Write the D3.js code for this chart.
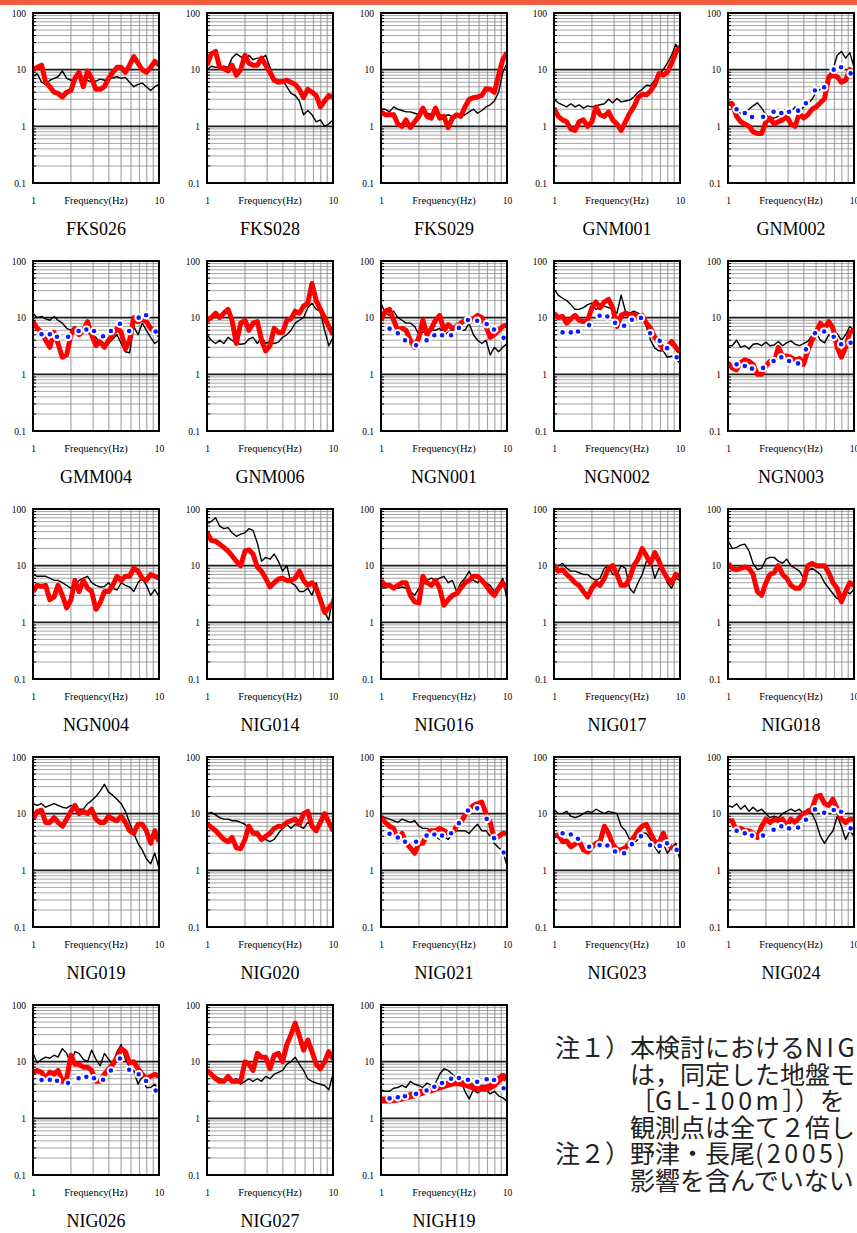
<!DOCTYPE html>
<html><head><meta charset="utf-8">
<script src="https://cdn.jsdelivr.net/npm/d3@7"></script>
<style>body{margin:0;background:#fff;overflow:hidden}svg{display:block}</style>
</head><body>
<svg id="c" width="857" height="1233"></svg>
<script>
// ---------------- data ----------------
const freqs = [1,1.08,1.17,1.26,1.36,1.47,1.58,1.71,1.85,2,2.15,2.32,2.51,2.71,2.92,3.16,3.41,3.69,3.98,4.3,4.64,5.01,5.41,5.84,6.31,6.81,7.36,7.94,8.58,9.26,10];
const dotFreqs = [1.17,1.36,1.55,1.9,2.3,2.65,3.05,3.6,4.15,4.9,5.8,6.9,7.9,9.4];
const yTickValues = [0.1,1,10,100];
const yTickLabels = ["0.1","1","10","100"];
const xTickValues = [1,10];
const xTickLabels = ["1","10"];
const xAxisTitle = "Frequency(Hz)";

const red_FKS026 = [10,11,12,6,5,4,3.8,3.3,4,4.3,7,9,5,9.5,7,4.5,4.5,5,7,9,11,11,9,12,17,13,10,9,11,14,12];
const black_FKS026 = [7.5,8.5,6,5.5,6.5,7,7.5,9.5,7,6.5,6.8,7.5,7,6.5,6,6.3,6.8,6.5,7,7.2,7.5,7,7.3,6,5,5.5,5.8,5,4.3,5,5.5];
const red_FKS028 = [12,19,21,11,10.5,9.5,12,8,10,18,13,12,12,16,12,9,6.5,6,6.2,6.5,6,5.5,4.5,3.2,4.5,4,3.5,2.2,2.8,3.5,3.3];
const black_FKS028 = [10,11.5,11,11,11.5,11,16,19,17,15,18,15,16,16,18,11,7,6.5,6.5,5,3.8,3.5,2.8,1.6,1.9,1.6,1.2,1.3,1.0,1.1,1.3];
const red_FKS029 = [1.8,1.6,1.6,1.6,1.1,1.0,1.3,0.95,1.2,1.5,2.1,1.5,1.4,2.1,1.4,1.5,0.95,1.4,1.6,1.5,2.2,3,3.2,3.3,3.5,4.6,4.5,4,8,15,20];
const black_FKS029 = [2.0,2.0,1.8,2.2,2.0,1.9,1.8,1.8,1.7,1.6,1.9,1.7,1.6,1.8,1.6,1.5,1.6,1.5,1.5,1.5,1.6,1.8,2.0,1.7,1.9,2.2,2.4,2.8,4,9,13];
const red_GNM001 = [2.1,1.5,1.3,1.2,0.9,0.85,1.2,1.3,1.0,1.2,2.2,1.6,1.5,1.8,1.3,1.1,0.85,1.2,1.7,2.2,3.2,3.7,3.6,4.2,5.5,8.5,8,9,13,20,26];
const black_GNM001 = [3.0,2.6,2.4,2.2,2.5,2.2,2.4,2.1,2.3,2.2,2.3,2.4,2.5,3.0,2.6,3.1,2.7,2.8,2.9,3.3,4,4.5,5.3,5.2,6.5,8,10,13,18,28,20];
const red_GNM002 = [2.6,2.5,1.5,1.2,1.1,1.0,0.8,0.75,0.75,1.2,1.4,1.1,1.2,1.3,1.5,1.1,1.0,1.7,1.4,1.6,2.0,2.2,2.6,3.1,7.5,8,7.5,6,6.5,10,9];
const black_GNM002 = [2.4,2.3,1.9,1.7,1.8,2.0,2.3,2.6,2.1,1.6,1.4,1.4,1.5,1.5,1.6,1.8,2.2,1.8,2.2,2.5,3.0,4,4.5,5,8,10,18,21,16,20,11];
const dots_GNM002 = [2.0,1.72,1.46,1.48,1.81,1.72,1.81,1.89,2.55,4.3,4.9,10,11,8.6];
const red_GMM004 = [8.5,6.5,5.5,4,3,5.5,3.5,2,2.2,5,6.5,5,6,8.5,5,3.2,3.8,3,4,5,6.5,5.5,2.8,4,10,8.5,9.5,8.5,6.5,5.5,5];
const black_GMM004 = [12,10,10.5,9.5,9,10.5,9,8,6.5,6,7,6,5.5,5.5,5,4.5,3.5,3.5,3.5,4.2,5,3.5,2.5,2.4,7,5,8,6,4.5,3.5,4];
const dots_GMM004 = [5.1,5.1,4.6,4.6,5.8,6.2,5.8,4.7,5.8,7.8,5.8,10,11,5.7];
const red_GNM006 = [9,10,12,10,12,14,9,3.5,8,9,6,8,8.5,4,2.6,3.2,6.5,5.5,5.5,9,9.5,13,12,16,18,40,20,14,10,7,5];
const black_GNM006 = [5,4,3.5,4,3.5,4.5,4,3.5,3.4,3.5,4.2,4.5,3.5,4.5,3.5,3.8,3.5,3.7,4.5,5,6,8,9,10,15,18,14,13,6,3.2,4.5];
const red_NGN001 = [9,13,14,9,6,6.5,6,4,3,4.5,9,5,6.5,9,11,6,7.5,6.5,7,8,9,9.5,9.5,11,10,7,4.5,5,6,7,7.5];
const black_NGN001 = [18,12,11,13,10,9,8,8,7,5,5.5,6,6,6,6.5,5,5.5,6,6.5,6,6,8,5,4,3.5,4,2.2,3,2.5,3,3.5];
const dots_NGN001 = [6.4,5.3,4.0,3.25,4.0,4.9,4.9,4.9,6.6,9.1,8.8,7.7,6.2,4.4];
const red_NGN002 = [12,10,10.5,8,9.5,11,9,8.5,9,15,19,15,19,21,15,7,11,12,11,11.5,10,11,8,6.5,4.5,3.6,2.8,3,3.8,3,2.4];
const black_NGN002 = [32,25,22,20,17,14,14,15,17,18,14,15,16,15,14,12,25,13,12,13,12,11,7,4,2.9,2.6,2.6,2.0,2.1,1.8,1.6];
const dots_NGN002 = [5.5,5.5,5.7,7.4,10.8,10.5,8.1,7.2,9.2,9.9,5.3,3.9,2.9,2.0];
const red_NGN003 = [1.6,1.3,1.2,1.6,1.8,1.7,1.5,1.0,1.0,1.4,1.7,1.6,3,2.1,2.1,2.0,1.8,1.9,1.5,2.6,4,5.5,8,6.5,8.5,6.5,3,2,3,5.5,6];
const black_NGN003 = [3.2,3.2,4,3,3.2,2.8,3.4,3.5,3.2,3.7,3.2,3.3,3.8,3.2,3.6,3.9,3.4,3.2,3.5,3.8,4.8,5.5,4,3.6,5,4,5.2,4,5,7,6];
const dots_NGN003 = [1.5,1.4,1.26,1.3,1.72,2.0,1.72,1.56,2.76,5.3,5.7,4.6,3.4,3.6];
const red_NGN004 = [3.5,4.5,4.3,4.5,2.5,2.8,4.5,3,1.8,2.5,5.5,3.5,5.5,4,3.5,1.7,2.2,3.5,3.5,4.5,6.5,5.5,6.5,6.5,9,8,6,5.5,7,6.5,6];
const black_NGN004 = [7,6.5,6.5,6.5,6,5.5,5.5,5,4.5,4,4.5,5.5,6,6.5,5,4.5,4.2,4.3,5,4,3.7,5,4.5,4.2,3.5,5,6,4.5,3,3.8,2.8];
const red_NIG014 = [38,28,27,24,21,18,15,12,10,18,19,16,9.5,8,6,4.2,5,5.8,6,5.5,5.5,6,8,5.5,4.5,5,4,2.5,1.5,1.8,2.2];
const black_NIG014 = [55,60,70,50,45,47,38,33,36,38,45,42,25,12,14,13,16,12,8,10,5,4.5,3.5,3.5,4,3,5,2.5,1.5,1.1,3];
const red_NIG016 = [5.5,4.5,4.5,4,4.5,5,5,3,2.3,2.2,6.5,5,4.5,5.5,4,2,2.5,3,3.2,4,5,5.5,6.5,6.5,5.5,4.5,3.5,3,4,5,4];
const black_NIG016 = [4.5,4,4.5,4,4,4.2,4,3.5,3,4,4.5,5.5,6,5.5,6,6.5,5,5.5,3.5,5,6,8,5.5,5,6,5,4.5,3.5,4.5,6,2.5];
const red_NIG017 = [10.5,8,8.5,7,6,5,4.5,3.5,2.8,4,5,4.5,6,9,10,7,4.5,4.5,6,10,13,20,15,11,17,12,8,6,5,7,6.5];
const black_NIG017 = [9,10,11,9,8,8,7.5,7,7,6,5.5,6,9,10,7,7,10,9,4,3.3,5,7,12,12,6,9,8,5,4,6,5.5];
const red_NIG018 = [11,9,8.5,9,9.5,9,7,3.5,3,5,7,7.5,10,7,6,4.5,4,4,5,10,11,10,10,10,7.5,5,4,2.3,3.5,5,4.5];
const black_NIG018 = [28,20,21,23,24,18,11,8.5,9,13,14,14,12,11,13,10,9,8,6,8,9,8,7,5,4,3.2,2.6,2.8,3.5,3.2,3.8];
const red_NIG019 = [8,11,11.5,7,7,8.5,7,6,8,11,14,10,11,10,12,8,7,7,9,8,7.5,9,7,5,4.5,6.5,6.5,5,3,5,3.2];
const black_NIG019 = [15,14,15,13,14,15,14,13,12.5,14,13,12,12,15,17,20,25,33,24,21,18,15,11,7,4.5,3,2.3,1.6,1.3,2,1.1];
const red_NIG020 = [6.5,5.8,5,4.2,3.5,3.2,3.8,2.5,2.4,3.5,6,4.5,4.5,3.5,4,4.5,5.5,6,6,7,7.5,8,6.5,10,11,6,5,7,10,7,5];
const black_NIG020 = [10,10.5,9.5,8.5,8,8,7.5,7.5,7,6.5,5.5,4.5,4,3.8,3.5,3.2,3.5,4.5,5.5,6.5,5.5,6.5,6,5.5,7,6,5,6.5,9,7,4.5];
const red_NIG021 = [8.5,7,6,5.5,3.5,4.5,3,2.5,2,3,3,4.5,5,5,5.5,5,4.5,4.5,6,7,9.5,12,14,15,16,10,7,3.5,4,4.5,4.5];
const black_NIG021 = [9,8.5,8,7.5,7,8,7.5,7,7.5,6,5.5,5.5,5,4,3.5,4,3.5,4.5,5,5,5,4.5,5.5,6.5,5,5,4,3,2.5,2.2,1.2];
const dots_NIG021 = [4.4,3.8,3.2,3.2,4.1,4.3,4.1,4.5,6.8,11.4,12.4,8.1,3.7,2.07];
const red_NIG023 = [4,4.2,3.2,3.3,2.6,2.9,3.3,2.3,2.1,2.6,3,3.2,6,4.5,2.9,2.3,2.3,2.5,3,3.8,5,6,6.5,4.5,3.2,3,4.5,3,2.5,2.5,2.2];
const black_NIG023 = [12,10,10,11,9,8.5,9,10,11,10.5,12,11,10,11,10.5,10,6,5,3.5,3,3.5,4.5,4.5,3.5,2.6,2,3,2,2.5,3,1.5];
const dots_NIG023 = [4.5,4.3,3.6,2.6,2.8,2.75,2.15,2.0,2.9,4.0,2.8,2.7,3.0,2.3];
const red_NIG024 = [7.5,7.5,5,5.5,5,5,4.5,3.8,6,8,7,8,7.5,8,6,8,7,8.5,10,11,12,20,21,15,14,18,12,8,7,8,8];
const black_NIG024 = [14,13,15,12,14,11,13,11,12,10,8.5,9,8.5,10,11,12,11,12,10,12,10,7,4,3,4,5,9,6,3.5,5,4];
const dots_NIG024 = [5,4.5,4.1,4.1,5.2,6,5.5,5.7,7.8,11.9,10.4,11.6,10.8,5.5];
const red_NIG026 = [6.5,7,6.5,5,6.5,6,7,4.5,5,13,9,9,8,8,7,4.5,4.5,6,7.5,9,12,17,15,9.5,10,7.5,6,5,5.5,6,5.5];
const black_NIG026 = [14,9.5,11,12,11.5,13,12,17,14,9,15,14,11,10,16,11,8.5,14,11,9,15,20,11,8,7,4,5.5,3.5,3.5,4,3];
const dots_NIG026 = [4.75,4.8,4.6,4.2,5.1,5.4,5.1,4.8,7.0,11.4,7.2,6.0,4.55,3.1];
const red_NIG027 = [7,6,5,4.5,4.5,5.5,4.5,4.5,4.5,10,9,7,14,12,12,7.5,13,14,10,20,30,48,28,16,24,15,9,7.5,10,15,11];
const black_NIG027 = [6,6,5.5,5,4.7,4.8,4.5,5,4,4.5,5,4.5,5,4.5,5.5,5,6,6.5,7,9,10,12,9,7,5,4.5,4.2,4,3.8,3.2,6];
const red_NIGH19 = [2.1,2.1,2.1,2.15,2.2,2.3,2.4,2.5,2.6,2.75,2.9,3.1,3.2,3.4,3.6,3.8,4.0,4.2,4.3,4.2,4.0,3.8,3.6,3.4,3.4,3.4,3.6,4.0,4.8,5.5,5.0];
const black_NIGH19 = [3.2,3,3,3.4,3.5,3.8,3.5,4.5,4,3.8,3.5,4.2,3.8,4.2,6,7.5,7,6,5,4.5,3,2.2,3.2,2.8,3.2,3.2,2.7,3,2.5,2.3,2];
const dots_NIGH19 = [2.25,2.35,2.45,2.7,3.1,3.6,4.2,5.0,5.15,4.8,4.4,4.9,4.75,3.4];

const stationNames = ["FKS026","FKS028","FKS029","GNM001","GNM002","GMM004","GNM006","NGN001","NGN002","NGN003",
  "NGN004","NIG014","NIG016","NIG017","NIG018","NIG019","NIG020","NIG021","NIG023","NIG024","NIG026","NIG027","NIGH19"];
const redList = [red_FKS026,red_FKS028,red_FKS029,red_GNM001,red_GNM002,red_GMM004,red_GNM006,red_NGN001,red_NGN002,red_NGN003,
  red_NGN004,red_NIG014,red_NIG016,red_NIG017,red_NIG018,red_NIG019,red_NIG020,red_NIG021,red_NIG023,red_NIG024,red_NIG026,red_NIG027,red_NIGH19];
const blackList = [black_FKS026,black_FKS028,black_FKS029,black_GNM001,black_GNM002,black_GMM004,black_GNM006,black_NGN001,black_NGN002,black_NGN003,
  black_NGN004,black_NIG014,black_NIG016,black_NIG017,black_NIG018,black_NIG019,black_NIG020,black_NIG021,black_NIG023,black_NIG024,black_NIG026,black_NIG027,black_NIGH19];
const dotsList = [null,null,null,null,dots_GNM002,dots_GMM004,null,dots_NGN001,dots_NGN002,dots_NGN003,
  null,null,null,null,null,null,null,dots_NIG021,dots_NIG023,dots_NIG024,dots_NIG026,null,dots_NIGH19];

const notePrefixes = ["注１）","","","","注２）",""];
const noteTexts = ["本検討におけるNIG","は，同定した地盤モ","［GL-100m］）を","観測点は全て２倍し","野津・長尾(2005)","影響を含んでいない"];

// ---------------- layout ----------------
const colX = [33, 207, 381, 554, 728];
const rowY = [13, 261, 509, 757, 1005];
const W = 126, H = 170;
const serif = "Liberation Serif, Times New Roman, serif";
const cjk = "Noto Sans CJK JP, Noto Sans CJK SC, sans-serif";

const svg = d3.select("#c");
svg.append("rect").attr("x",0).attr("y",0).attr("width",857).attr("height",5).attr("fill","#f15c3e");

const xMinor = [2,3,4,5,6,7,8,9];
const yMinor = [];
[0.1,1,10].forEach(d => { for (let k=2;k<=9;k++) yMinor.push(+(d*k).toPrecision(3)); });

stationNames.forEach((name, i) => {
  const r = Math.floor(i/5), c = i % 5;
  const g = svg.append("g").attr("transform", `translate(${colX[c]},${rowY[r]})`);
  const x = d3.scaleLog().domain([1,10]).range([0,W]);
  const y = d3.scaleLog().domain([0.1,100]).range([H,0]);

  // grid
  g.append("g").selectAll("line").data(xMinor).join("line")
    .attr("x1", d=>x(d)).attr("x2", d=>x(d)).attr("y1",0).attr("y2",H)
    .attr("stroke","#a8a8a8").attr("stroke-width",1.2);
  g.append("g").selectAll("line").data(yMinor).join("line")
    .attr("x1",0).attr("x2",W).attr("y1", d=>y(d)).attr("y2", d=>y(d))
    .attr("stroke","#8c8c8c").attr("stroke-width",0.8);
  g.append("g").selectAll("line").data(yMinor).join("line")
    .attr("x1",0).attr("x2",3).attr("y1", d=>y(d)).attr("y2", d=>y(d))
    .attr("stroke","#000").attr("stroke-width",1);
  g.append("g").selectAll("line").data([1,10]).join("line")
    .attr("x1",0).attr("x2",W).attr("y1", d=>y(d)).attr("y2", d=>y(d))
    .attr("stroke","#1a1a1a").attr("stroke-width",1.6);

  // data
  const clipId = "clip" + i;
  g.append("clipPath").attr("id", clipId).append("rect").attr("width", W).attr("height", H);
  const lg = g.append("g").attr("clip-path", `url(#${clipId})`);
  const line = d3.line().x(d=>x(d[0])).y(d=>y(d[1]));
  lg.append("path").datum(d3.zip(freqs, blackList[i])).attr("d", line)
    .attr("fill","none").attr("stroke","#000").attr("stroke-width",1.4).attr("stroke-linejoin","round");
  lg.append("path").datum(d3.zip(freqs, redList[i])).attr("d", line)
    .attr("fill","none").attr("stroke","#ff0000").attr("stroke-width", name === "NIGH19" ? 7 : 5)
    .attr("stroke-linejoin","round").attr("stroke-linecap","butt");
  if (dotsList[i]) {
    g.append("g").selectAll("circle").data(d3.zip(dotFreqs, dotsList[i])).join("circle")
      .attr("cx", d=>x(d[0])).attr("cy", d=>y(d[1])).attr("r", 3.3)
      .attr("fill","#0a1aff").attr("stroke","#fff").attr("stroke-width",2);
  }

  // frame
  g.append("rect").attr("width",W).attr("height",H).attr("fill","none")
    .attr("stroke","#000").attr("stroke-width",2);

  // axes
  const ya = g.append("g").call(d3.axisLeft(y).tickValues(yTickValues)
      .tickFormat((d,k)=>yTickLabels[k]).tickSize(0).tickPadding(7));
  ya.select(".domain").remove();
  ya.selectAll("text").style("font-family", serif).style("font-size","9.5px").attr("fill","#000");

  const xa = g.append("g").attr("transform", `translate(0,${H})`)
    .call(d3.axisBottom(x).tickValues(xTickValues).tickFormat((d,k)=>xTickLabels[k]).tickSize(0).tickPadding(14));
  xa.select(".domain").remove();
  xa.selectAll("text").style("font-family", serif).style("font-size","9.5px").attr("fill","#000");

  g.append("text").attr("x", W/2).attr("y", H+21).attr("text-anchor","middle")
    .style("font-family", serif).style("font-size","10.5px").text(xAxisTitle);
  g.append("text").attr("x", W/2).attr("y", H+52).attr("text-anchor","middle")
    .style("font-family", serif).style("font-size","18px").text(name);
});

// notes
const notes = svg.append("g").style("font-family", cjk).style("font-size","25px").attr("fill","#222");
noteTexts.forEach((txt, k) => {
  const yy = 1057 + k*26.6;
  if (notePrefixes[k]) notes.append("text").attr("x",555).attr("y",yy).text(notePrefixes[k]);
  const t = notes.append("text").attr("x",630).attr("y",yy);
  txt.split(/([A-Za-z0-9\-\(\)]+)/).filter(s => s.length).forEach(part => {
    const ts = t.append("tspan").text(part);
    if (/^[A-Za-z0-9\-\(\)]+$/.test(part)) ts.attr("letter-spacing", 3.5);
  });
});
</script>
</body></html>
